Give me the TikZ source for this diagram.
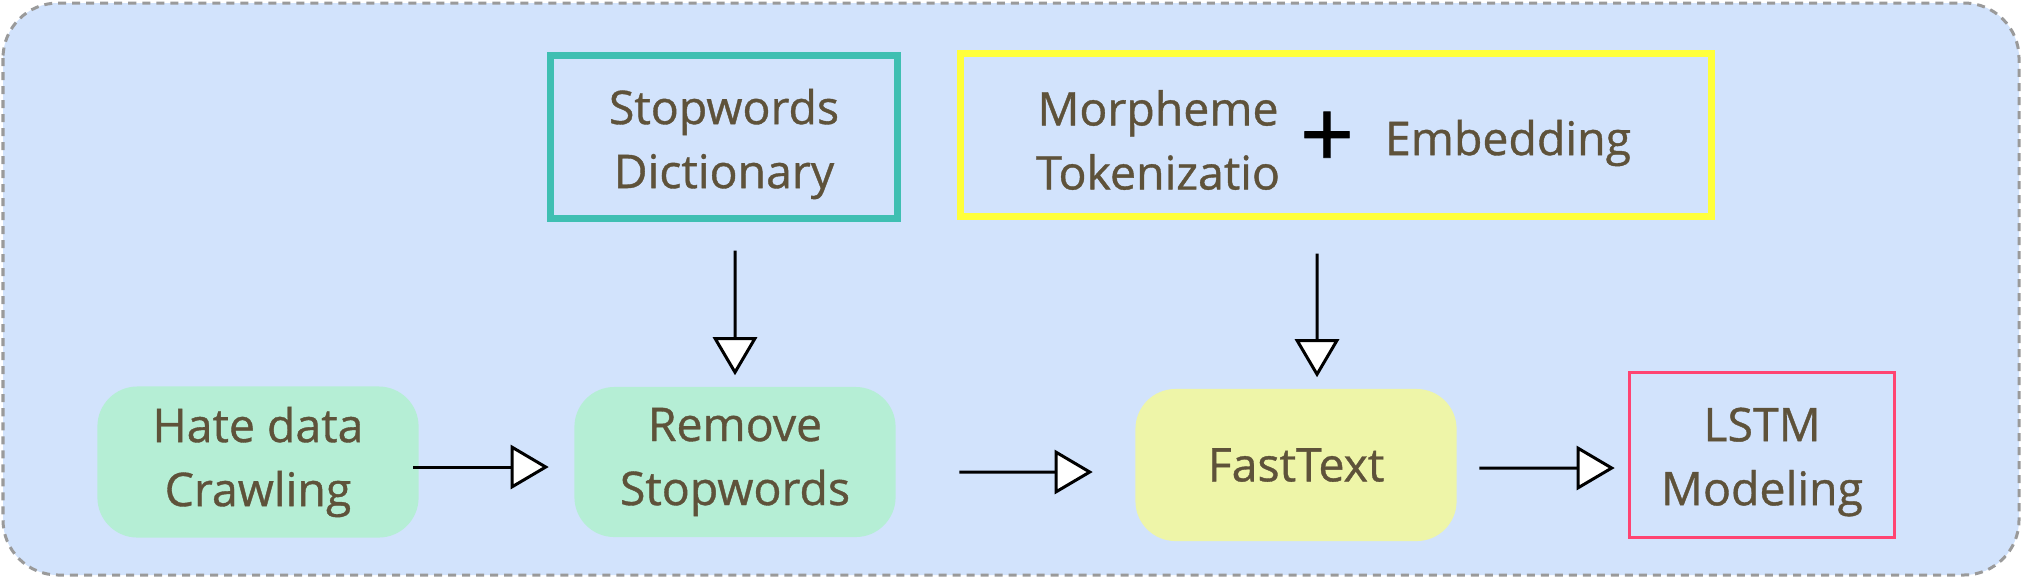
\documentclass[tikz,border=0pt]{standalone}
\usepackage{fontspec}
\setmainfont{Open Sans}[FakeBold=0.8]
\usepackage{xcolor}
\usetikzlibrary{arrows.meta}
\definecolor{bgblue}{HTML}{D2E3FC}
\definecolor{framegray}{HTML}{9A9A9A}
\definecolor{txtbrown}{RGB}{94,82,58}
\definecolor{dictteal}{HTML}{3FBFB2}
\definecolor{morphyellow}{HTML}{FFFF3B}
\definecolor{mintgreen}{HTML}{B5EED5}
\definecolor{fastyellow}{HTML}{EEF5A8}
\definecolor{lstmred}{HTML}{FF4472}
\tikzset{txt/.style={text=txtbrown,font=\fontsize{13.2}{18.2}\selectfont,align=center,inner sep=0pt},
    rbox/.style={txt,rounded corners=0.4cm,minimum width=3.21cm,minimum height=1.51cm},
    lbox/.style={draw,line width=0.07cm,inner sep=0pt},
    arr/.style={->,line width=0.03cm}}

\begin{document}
\begin{tikzpicture}[x=0.01cm,y=-0.01cm,>={Triangle[fill=white,length=0.38cm,width=0.44cm]}]
    \useasboundingbox (0,0) rectangle (2022,578);
    \draw[draw=framegray,fill=bgblue,line width=0.03cm,dash pattern=on 0.08cm off 0.06cm,rounded corners=0.55cm] (3,3) rectangle (2019,575);

    % top row
    \node[lbox,draw=dictteal,minimum width=3.47cm,minimum height=1.63cm] (dict) at (724,137) {};
    \node[txt] (dicttxt) at (724,144) {Stopwords\\Dictionary};
    \node[lbox,draw=morphyellow,minimum width=7.51cm,minimum height=1.63cm] (morph) at (1336,135) {};
    \node[txt] (tok) at (1158,140) {Morpheme\\Tokenizatio};
    \node[font=\fontsize{27}{27}\selectfont,inner sep=0pt] (plus) at (1327,140) {+};
    \node[txt] (emb) at (1508,143) {Embedding};

    % bottom row
    \node[rbox,fill=mintgreen] (hate) at (258,462) {Hate data\\Crawling};
    \node[rbox,fill=mintgreen,minimum height=1.5cm] (remove) at (735,462) {Remove\\Stopwords};
    \node[rbox,fill=fastyellow,minimum height=1.52cm] (fast) at (1296,465) {FastText};
    \node[lbox,draw=lstmred,line width=0.035cm,minimum width=2.65cm,minimum height=1.65cm] (lstm) at (1762,455) {};
    \node[txt] (lstmtxt) at (1762,462) {LSTM\\Modeling};

    \draw [arr,shorten <=0.285cm,shorten >=0.11cm] ([xshift=0.11cm]dict.south) to (remove.north);
    \draw [arr,shorten <=0.335cm,shorten >=0.11cm] ([xshift=-0.19cm]morph.south) to ([xshift=0.21cm]fast.north);
    \draw [arr,shorten <=-0.06cm,shorten >=0.25cm] ([yshift=-0.05cm]hate.east) to ([yshift=-0.05cm]remove.west);
    \draw [arr,shorten <=0.63cm,shorten >=0.42cm] ([yshift=-0.10cm]remove.east) to ([yshift=-0.07cm]fast.west);
    \draw [arr,shorten <=0.22cm,shorten >=0.13cm] ([yshift=-0.03cm]fast.east) to ([yshift=-0.13cm]lstm.west);
\end{tikzpicture}
\end{document}
